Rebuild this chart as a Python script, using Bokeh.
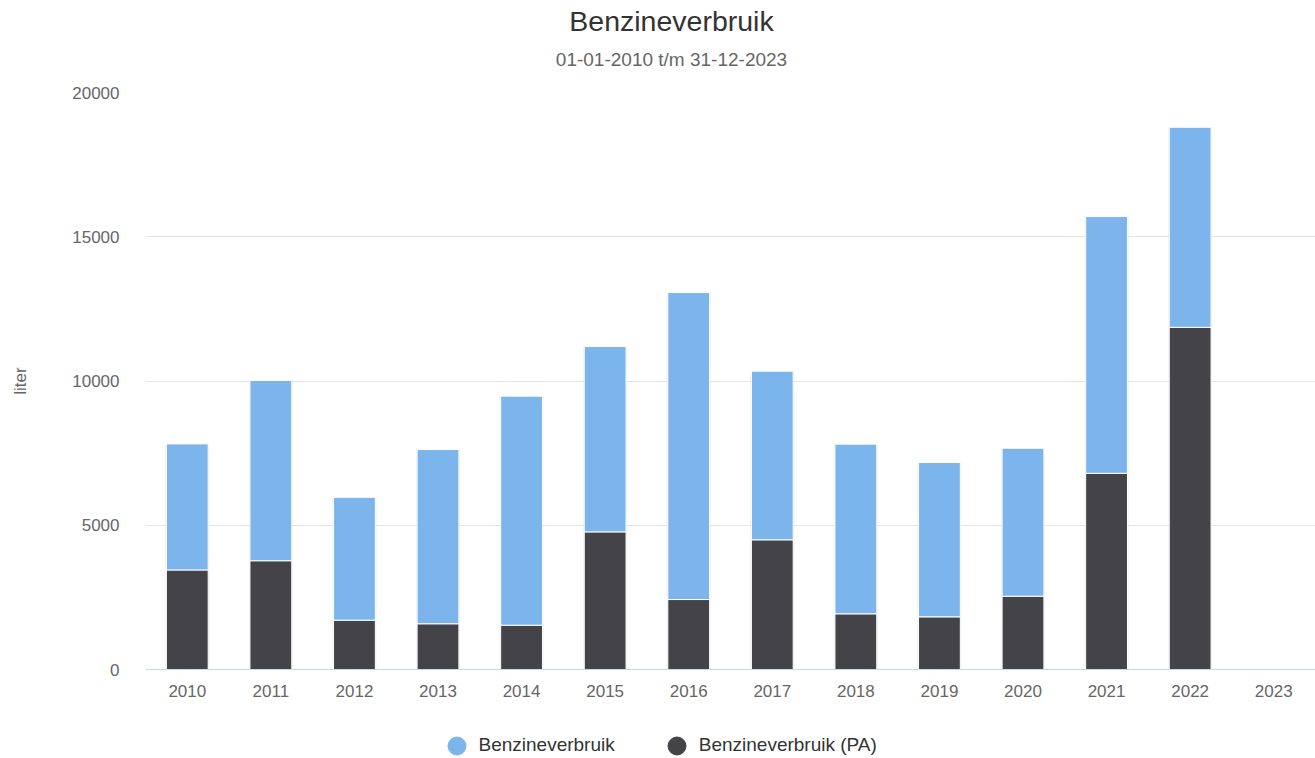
from bokeh.plotting import figure
from bokeh.layouts import column
from bokeh.models import (ColumnDataSource, FactorRange, Range1d, Legend, LegendItem, Label)
from bokeh.embed import file_html
from bokeh.resources import INLINE

# ---- data ----
years = ["2010", "2011", "2012", "2013", "2014", "2015", "2016",
         "2017", "2018", "2019", "2020", "2021", "2022", "2023"]
benzine = [4370, 6250, 4260, 6040, 7940, 6425, 10640, 5845, 5880, 5350, 5130, 8900, 6935, 0]
benzine_pa = [3450, 3770, 1710, 1585, 1535, 4770, 2425, 4495, 1930, 1825, 2540, 6800, 11860, 0]
y_ticks = [0, 5000, 10000, 15000, 20000]

title_text = "Benzineverbruik"
subtitle_text = "01-01-2010 t/m 31-12-2023"
y_title = "liter"
series_names = ["Benzineverbruik", "Benzineverbruik (PA)"]
colors = ["#7cb5ec", "#434348"]

FONT = "Liberation Sans"
W = 1315
LEFT = 145  # frames of all stacked figures are aligned at this x


def blank(height):
    f = figure(width=W, height=height, x_range=Range1d(LEFT, W), y_range=Range1d(0, height),
               min_border=0, x_axis_location=None, y_axis_location=None,
               output_backend="svg", toolbar_location=None)
    f.outline_line_color = None
    f.xgrid.visible = False
    f.ygrid.visible = False
    f.background_fill_color = "white"
    f.border_fill_color = "white"
    return f


# ---- header ----
TOP_H = 82
top = blank(TOP_H)
top.add_layout(Label(x=671, y=61.5, text=title_text, text_font=FONT,
                     text_font_size="28.5px", text_color="#333333",
                     text_align="center", text_baseline="alphabetic"))
top.add_layout(Label(x=671, y=23, text=subtitle_text, text_font=FONT,
                     text_font_size="19px", text_color="#666666",
                     text_align="center", text_baseline="alphabetic"))

# ---- main chart ----
rows = [(y, b, pa) for y, b, pa in zip(years, benzine, benzine_pa) if b + pa > 0]
src = ColumnDataSource(dict(
    year=[r[0] for r in rows],
    benz=[r[1] for r in rows],
    pa=[r[2] for r in rows],
    total=[r[1] + r[2] for r in rows],
))

p = figure(x_range=FactorRange(*years, range_padding=0),
           y_range=Range1d(0, 20000),
           frame_width=1170, frame_height=577,
           min_border_left=LEFT, min_border_right=0,
           min_border_top=10, min_border_bottom=50,
           output_backend="svg", toolbar_location=None)
p.outline_line_color = None
p.background_fill_color = "white"
p.border_fill_color = "white"

# subtle shadow
p.vbar(x="year", top="total", width=0.525, source=src,
       fill_color="#000000", fill_alpha=0.07, line_color=None)

p.vbar_stack(["pa", "benz"], x="year", width=0.5, source=src,
             color=[colors[1], colors[0]], line_color="white", line_width=1)

p.xgrid.grid_line_color = None
p.ygrid.grid_line_color = "#e6e6e6"
p.ygrid.grid_line_width = 1
p.yaxis.ticker = y_ticks
p.yaxis.axis_line_color = None
p.yaxis.major_tick_line_color = None
p.yaxis.minor_tick_line_color = None
p.yaxis.major_tick_out = 0
p.yaxis.major_tick_in = 0
p.yaxis.major_label_standoff = 26
p.yaxis.major_label_text_font = FONT
p.yaxis.major_label_text_font_size = "17px"
p.yaxis.major_label_text_color = "#666666"
p.yaxis.axis_label = y_title
p.yaxis.axis_label_standoff = 39
p.yaxis.axis_label_text_font = FONT
p.yaxis.axis_label_text_font_size = "17px"
p.yaxis.axis_label_text_font_style = "normal"
p.yaxis.axis_label_text_color = "#666666"

p.xaxis.axis_line_color = "#ccd6eb"
p.xaxis.axis_line_width = 1
p.xaxis.major_tick_line_color = None
p.xaxis.minor_tick_line_color = None
p.xaxis.major_tick_out = 0
p.xaxis.major_tick_in = 0
p.xaxis.major_label_standoff = 15
p.xaxis.major_label_text_font = FONT
p.xaxis.major_label_text_font_size = "17px"
p.xaxis.major_label_text_color = "#666666"

# ---- legend strip ----
LEG_H = 50
leg = blank(LEG_H)
# legend proxies: one point each, kept outside the visible range
r1 = leg.scatter(x=[-10000], y=[-10000], marker="circle", size=18, color=colors[0])
r2 = leg.scatter(x=[-10000], y=[-10000], marker="circle", size=18, color=colors[1])
legend = Legend(items=[LegendItem(label=series_names[0], renderers=[r1]),
                       LegendItem(label=series_names[1], renderers=[r2])],
                orientation="horizontal", location=(433.5 - LEFT, 1.5),
                glyph_width=45, glyph_height=45, label_standoff=0, spacing=39,
                padding=0, margin=0, border_line_color=None, background_fill_alpha=0,
                label_text_font=FONT, label_text_font_size="19px",
                label_text_color="#333333")
leg.add_layout(legend, "center")

layout = column(top, p, leg, spacing=0)
open("out.html", "w").write(file_html(layout, INLINE))
